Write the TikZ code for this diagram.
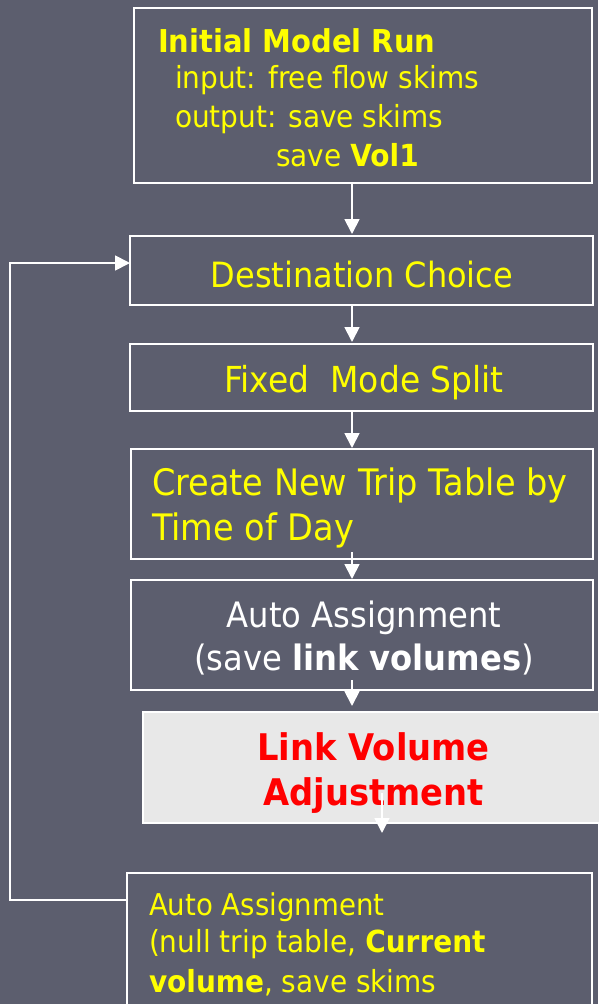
\documentclass[tikz,border=0pt]{standalone}
\usepackage{fontspec}
\setmainfont{DejaVu Sans}[FakeStretch=0.92]
\usetikzlibrary{arrows.meta,calc}
\definecolor{bg}{HTML}{5C5E6E}
\definecolor{ylw}{HTML}{FFFF00}
\definecolor{lgray}{HTML}{E8E8E8}
\definecolor{rd}{HTML}{FF0000}
\newcommand\setfs[1]{\fontsize{#1}{#1}\selectfont}
\begin{document}
\begin{tikzpicture}[x=1pt,y=-1pt,
  box/.style={draw=white, line width=1.8pt, inner sep=0pt, outer sep=0pt},
  arr/.style={draw=white, line width=1.8pt, -{Triangle[width=15pt,length=15pt]}},
  txt/.style={inner sep=0pt, outer sep=0pt, text=ylw},
]
\fill[bg] (0,0) rectangle (598,1004);
\useasboundingbox (0,0) rectangle (598,1004);

% boxes
\node[box, minimum width=458pt, minimum height=175pt] (b1) at (363,95.5) {};
\node[box, minimum width=463pt, minimum height=69pt] (b2) at (361.5,270.5) {};
\node[box, minimum width=463pt, minimum height=67pt] (b3) at (361.5,377.5) {};
\node[box, minimum width=462pt, minimum height=110pt] (b4) at (362,504) {};
\node[box, minimum width=462pt, minimum height=110pt] (b5) at (362,635) {};
\node[box, fill=lgray, minimum width=457pt, minimum height=111pt] (b6) at (371.5,767.5) {};
\node[box, minimum width=465pt, minimum height=147pt] (b7) at (359.5,946.5) {};

% texts
\node[txt, anchor=base west, font=\setfs{31.5}\bfseries] (t1) at (158,52) {Initial Model Run};
\node[txt, anchor=base west, font=\setfs{30.4}] (t2) at (175,88) {input: free flow skims};
\node[txt, anchor=base west, font=\setfs{30.4}] (t3) at (175,127) {output: save skims};
\node[txt, anchor=base west, font=\setfs{30.4}] (t4) at (276,166) {save \textbf{Vol1}};

\node[txt, anchor=base, font=\setfs{34.8}] (t5) at (362,287) {Destination Choice};
\node[txt, anchor=base, font=\setfs{35.8}] (t6) at (364,392) {Fixed\ \ Mode Split};

\node[txt, anchor=base west, font=\setfs{36.5}] (t7) at (152,495) {Create New Trip Table by};
\node[txt, anchor=base west, font=\setfs{36.5}] (t8) at (152,540) {Time of Day};

\node[txt, text=white, anchor=base, font=\setfs{35}] (t9) at (364,627) {Auto Assignment};
\node[txt, text=white, anchor=base, font=\setfs{35}] (t10) at (364,670) {(save \textbf{link volumes})};

\node[txt, text=rd, anchor=base, font=\setfs{36.7}\bfseries] (t11) at (373.5,760) {Link Volume};
\node[txt, text=rd, anchor=base, font=\setfs{36.7}\bfseries] (t12) at (373.5,805) {Adjustment};

\node[txt, anchor=base west, font=\setfs{30}] (t13) at (149,915) {Auto Assignment};
\node[txt, anchor=base west, font=\setfs{30.4}] (t14) at (149,952) {(null trip table, \textbf{Current}};
\node[txt, anchor=base west, font=\setfs{30.4}] (t15) at (149,992) {\textbf{volume}, save skims};

% connectors
\coordinate (ax) at (352,0);
\coordinate (ls) at (382,793);
\coordinate (le) at (382,833);
\coordinate (fbl) at (10,0);
\coordinate (fby) at (0,900);
\coordinate (fbt) at (0,263);

\draw[arr] (ax |- b1.south) -- ([yshift=2pt]ax |- b2.north);
\draw[arr] (ax |- b2.south) -- ([yshift=2pt]ax |- b3.north);
\draw[arr] (ax |- b3.south) -- ([yshift=1pt]ax |- b4.north);
\draw[arr] ([yshift=7pt]ax |- b4.south) -- ([yshift=1pt]ax |- b5.north);
\draw[arr] ([yshift=10pt]ax |- b5.south) -- ([yshift=6pt]ax |- b6.north);
\draw[arr] (ls) -- (le);
\draw[arr] (b7.west |- fby) -- (fbl |- fby) -- (fbl |- fbt) -- (b2.west |- fbt);
\end{tikzpicture}
\end{document}
